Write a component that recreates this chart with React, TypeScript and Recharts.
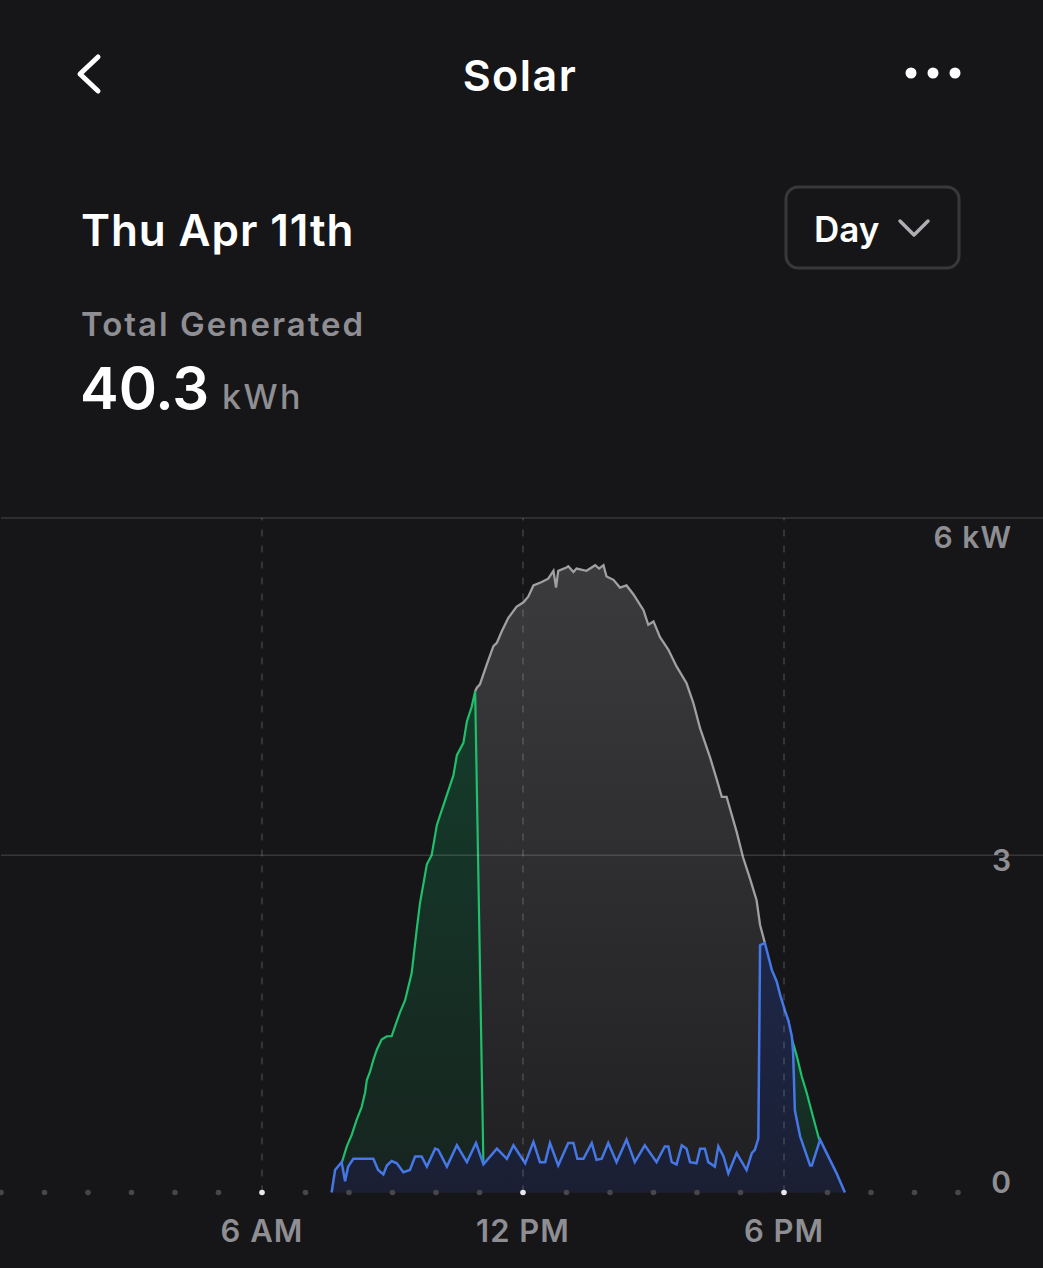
import React from "react";
import { AreaChart, Area, XAxis, YAxis, ReferenceLine } from "recharts";

// solar output (grey) — only visible from the moment the Powerwall is full
const solarHours = [
  10.9, 10.94, 11.01, 11.17, 11.32, 11.4, 11.51, 11.66, 11.85, 12.01,
  12.12, 12.24, 12.43, 12.58, 12.7, 12.76, 12.81, 13.0, 13.04, 13.16,
  13.23, 13.46, 13.66, 13.75, 13.85, 13.92, 14.08, 14.19, 14.23, 14.38,
  14.54, 14.77, 14.88, 15.0, 15.15, 15.34, 15.53, 15.76, 15.92, 16.07,
  16.3, 16.45, 16.57, 16.68, 16.91, 17.06, 17.22, 17.37, 17.45, 17.56,
];
const solarKw = [
  4.46, 4.49, 4.52, 4.7, 4.86, 4.89, 4.99, 5.11, 5.21, 5.25,
  5.3, 5.4, 5.43, 5.46, 5.53, 5.38, 5.53, 5.56, 5.57, 5.52,
  5.55, 5.53, 5.58, 5.55, 5.58, 5.48, 5.45, 5.4, 5.38, 5.4,
  5.32, 5.18, 5.05, 5.08, 4.94, 4.83, 4.68, 4.53, 4.35, 4.13,
  3.87, 3.68, 3.52, 3.52, 3.21, 2.98, 2.79, 2.6, 2.38, 2.22,
];

// home + powerwall (green), morning charge
const storeAmHours = [
  7.83, 7.95, 8.06, 8.18, 8.29, 8.37, 8.41, 8.48, 8.56, 8.64,
  8.75, 8.87, 8.98, 9.06, 9.17, 9.29, 9.44, 9.56, 9.63, 9.79,
  9.9, 10.02, 10.21, 10.4, 10.48, 10.63, 10.71, 10.82, 10.9, 11.09,
];
const storeAmKw = [
  0.26, 0.41, 0.51, 0.65, 0.76, 0.89, 1.0, 1.07, 1.18, 1.27,
  1.36, 1.39, 1.39, 1.48, 1.6, 1.71, 1.95, 2.35, 2.57, 2.92,
  3.0, 3.27, 3.49, 3.71, 3.89, 4.0, 4.19, 4.32, 4.46, 0.25,
];

// home + powerwall (green), evening
const storePmHours = [18.1, 18.14, 18.29, 18.41, 18.52, 18.67, 18.81];
const storePmKw = [1.53, 1.42, 1.22, 1.03, 0.89, 0.67, 0.47];

// home use (blue)
const homeHours = [
  7.6, 7.68, 7.83, 7.91, 7.98, 8.1, 8.56, 8.67, 8.79, 8.87,
  8.98, 9.1, 9.25, 9.4, 9.52, 9.67, 9.79, 9.98, 10.05, 10.25,
  10.48, 10.71, 10.92, 11.09, 11.4, 11.63, 11.78, 12.05, 12.24, 12.39,
  12.51, 12.62, 12.81, 13.04, 13.16, 13.25, 13.39, 13.58, 13.69, 13.81,
  13.96, 14.15, 14.38, 14.57, 14.8, 15.07, 15.26, 15.34, 15.42, 15.53,
  15.65, 15.76, 15.84, 15.99, 16.07, 16.18, 16.26, 16.41, 16.49, 16.61,
  16.72, 16.91, 17.14, 17.26, 17.33, 17.41, 17.45, 17.56, 17.72, 17.83,
  17.91, 18.02, 18.1, 18.18, 18.21, 18.25, 18.37, 18.6, 18.64, 18.83,
  18.98, 19.21, 19.4,
];
const homeKw = [
  0, 0.2, 0.27, 0.1, 0.23, 0.3, 0.3, 0.2, 0.16, 0.24,
  0.28, 0.26, 0.18, 0.2, 0.32, 0.32, 0.23, 0.39, 0.38, 0.23,
  0.42, 0.27, 0.44, 0.25, 0.39, 0.3, 0.42, 0.26, 0.45, 0.27,
  0.27, 0.44, 0.24, 0.44, 0.44, 0.3, 0.3, 0.44, 0.29, 0.3,
  0.44, 0.27, 0.47, 0.27, 0.42, 0.27, 0.41, 0.41, 0.27, 0.25,
  0.42, 0.39, 0.27, 0.26, 0.39, 0.39, 0.27, 0.23, 0.41, 0.32,
  0.17, 0.35, 0.2, 0.35, 0.38, 0.48, 2.2, 2.22, 1.98, 1.88,
  1.76, 1.62, 1.53, 1.39, 1.24, 0.73, 0.5, 0.24, 0.24, 0.47,
  0.35, 0.17, 0,
];

const hourTicks = [0, 1, 2, 3, 4, 5, 6, 7, 8, 9, 10, 11, 12, 13, 14, 15, 16, 17, 18, 19, 20, 21, 22];
const hourLabels: Record<number, string> = { 6: "6 AM", 12: "12 PM", 18: "6 PM" };
const kwTicks = [0, 3, 6];
const kwLabels: Record<number, string> = { 0: "0", 3: "3", 6: "6 kW" };

type Row = { t: number; solar?: number; storeAm?: number; storePm?: number; home?: number };

const rows: Row[] = [
  ...solarHours.map((t, i) => ({ t, solar: solarKw[i] })),
  ...storeAmHours.map((t, i) => ({ t, storeAm: storeAmKw[i] })),
  ...storePmHours.map((t, i) => ({ t, storePm: storePmKw[i] })),
  ...homeHours.map((t, i) => ({ t, home: homeKw[i] })),
].sort((a, b) => a.t - b.t);

const FONT = "Inter, 'Noto Sans', sans-serif";
const BG = "#161618";
const MUTED = "#8e8e93";

const XTick = (props: any) => {
  const { x, y, payload } = props;
  const label = hourLabels[payload.value];
  return (
    <g>
      <circle cx={x} cy={y} r={2.8} fill={label ? "#e8e8ea" : "#47474b"} />
      {label && (
        <text x={x} y={y + 49} textAnchor="middle" fill={MUTED} fontSize={31} fontWeight={600} letterSpacing={1} fontFamily={FONT}>
          {label}
        </text>
      )}
    </g>
  );
};

// labels sit under the line at the top, on it in the middle, above it at the bottom
const Y_DY: Record<number, number> = { 0: 0, 3: 16, 6: 30 };

const YTick = (props: any) => {
  const { y, payload } = props;
  return (
    <text x={1012} y={y + Y_DY[payload.value]} textAnchor="end" fill={MUTED} fontSize={30} fontWeight={600} letterSpacing={1} fontFamily={FONT}>
      {kwLabels[payload.value]}
    </text>
  );
};

function Header() {
  return (
    <svg width={1043} height={480} style={{ position: "absolute", left: 0, top: 0 }}>
      <polyline points="98,57 80,74 98,91" fill="none" stroke="#fff" strokeWidth={5} strokeLinecap="round" strokeLinejoin="round" />
      <text x={520} y={91} textAnchor="middle" fill="#fff" fontSize={43} fontWeight={600} letterSpacing={1.5} fontFamily={FONT}>
        Solar
      </text>
      <circle cx={911} cy={73} r={5.5} fill="#fff" />
      <circle cx={933} cy={73} r={5.5} fill="#fff" />
      <circle cx={955} cy={73} r={5.5} fill="#fff" />

      <text x={81} y={246} fill="#fff" fontSize={44} fontWeight={600} letterSpacing={0.9} fontFamily={FONT}>
        Thu Apr 11th
      </text>
      <rect x={786} y={187} width={173} height={81} rx={12} fill="none" stroke="#38383b" strokeWidth={3} />
      <text x={814} y={242} fill="#fff" fontSize={35} fontWeight={600} fontFamily={FONT}>
        Day
      </text>
      <polyline points="900,221 914,235 928,221" fill="none" stroke="#aeaeb2" strokeWidth={3.5} strokeLinecap="round" strokeLinejoin="round" />

      <text x={81} y={336} fill={MUTED} fontSize={33} fontWeight={600} letterSpacing={2} fontFamily={FONT}>
        Total Generated
      </text>
      <text x={80} y={409} fill="#fff" fontSize={58} fontWeight={600} fontFamily={FONT}>
        40.3
      </text>
      <text x={222} y={409} fill={MUTED} fontSize={34} fontWeight={500} letterSpacing={2.5} fontFamily={FONT}>
        kWh
      </text>
    </svg>
  );
}

export default function App() {
  return (
    <div style={{ position: "relative", width: 1043, height: 1268, background: BG, overflow: "hidden" }}>
      <style>{`body{margin:0;background:${BG};}`}</style>
      <Header />
      <div style={{ position: "absolute", left: 0, top: 0 }}>
        <AreaChart width={1043} height={1268} data={rows} margin={{ top: 518, right: -42, bottom: 45.5, left: 1 }}>
          <defs>
            <linearGradient id="gradSolar" x1="0" y1="0" x2="0" y2="1">
              <stop offset="0%" stopColor="#3b3b3d" />
              <stop offset="100%" stopColor="#202022" />
            </linearGradient>
            <linearGradient id="gradStore" x1="0" y1="0" x2="0" y2="1">
              <stop offset="0%" stopColor="#143c2b" />
              <stop offset="100%" stopColor="#17241f" />
            </linearGradient>
            <linearGradient id="gradHome" x1="0" y1="0" x2="0" y2="1">
              <stop offset="0%" stopColor="#1d2748" />
              <stop offset="100%" stopColor="#1a1f33" />
            </linearGradient>
          </defs>
          <XAxis
            dataKey="t"
            type="number"
            domain={[0, 24]}
            ticks={hourTicks}
            interval={0}
            height={30}
            axisLine={false}
            tickLine={false}
            tickSize={0}
            tickMargin={0}
            tick={XTick}
          />
          <YAxis
            orientation="right"
            type="number"
            domain={[0, 6]}
            ticks={kwTicks}
            interval={0}
            width={40}
            axisLine={false}
            tickLine={false}
            tickSize={0}
            tickMargin={0}
            tick={YTick}
          />
          <Area
            type="linear"
            dataKey="solar"
            connectNulls
            stroke="#a0a0a2"
            strokeWidth={2.3}
            fill="url(#gradSolar)"
            fillOpacity={1}
            dot={false}
            activeDot={false}
            isAnimationActive={false}
          />
          <Area
            type="linear"
            dataKey="storeAm"
            connectNulls
            stroke="#1fbf6c"
            strokeWidth={2.2}
            fill="url(#gradStore)"
            fillOpacity={1}
            dot={false}
            activeDot={false}
            isAnimationActive={false}
          />
          <Area
            type="linear"
            dataKey="storePm"
            connectNulls
            stroke="#1fbf6c"
            strokeWidth={2.2}
            fill="url(#gradStore)"
            fillOpacity={1}
            dot={false}
            activeDot={false}
            isAnimationActive={false}
          />
          <Area
            type="linear"
            dataKey="home"
            connectNulls
            stroke="#4677e6"
            strokeWidth={2.5}
            fill="url(#gradHome)"
            fillOpacity={1}
            dot={false}
            activeDot={false}
            isAnimationActive={false}
          />
          <ReferenceLine y={6} stroke="rgba(255,255,255,0.14)" strokeWidth={1.5} />
          <ReferenceLine y={3} stroke="rgba(255,255,255,0.14)" strokeWidth={1.5} />
          {[6, 12, 18].map((h) => (
            <ReferenceLine key={h} x={h} stroke="rgba(255,255,255,0.13)" strokeWidth={2} strokeDasharray="7 9" />
          ))}
        </AreaChart>
      </div>
    </div>
  );
}
